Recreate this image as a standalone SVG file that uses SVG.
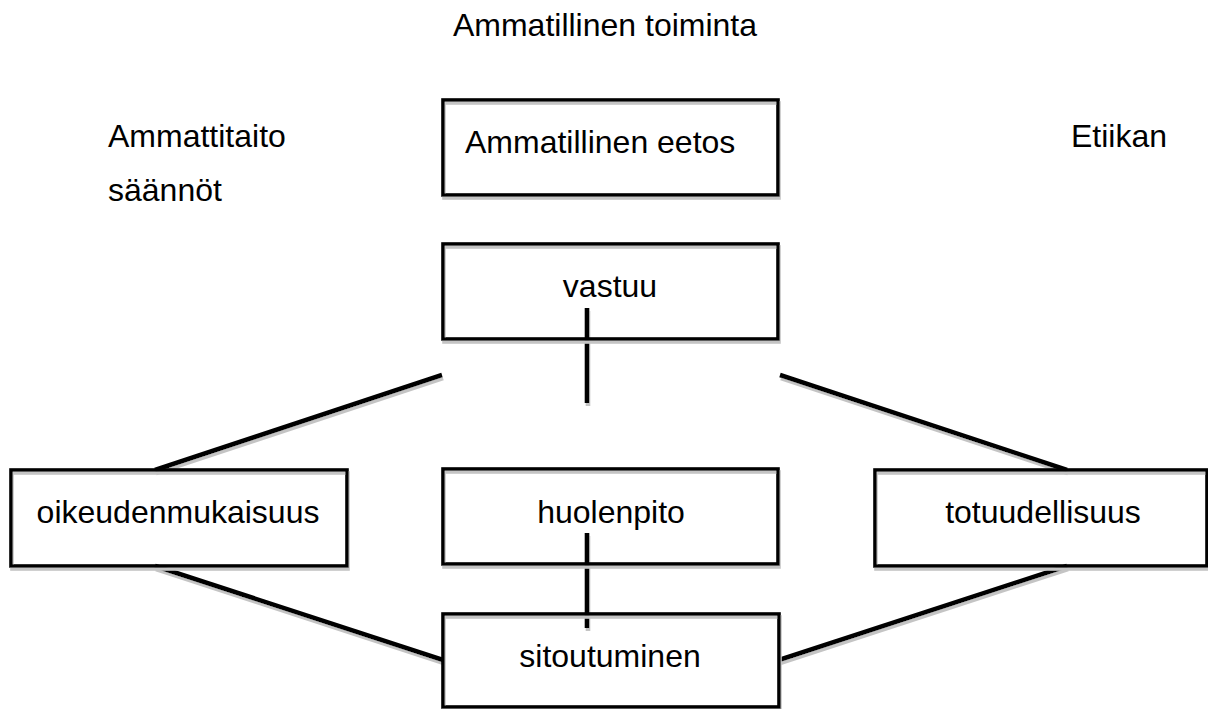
<svg xmlns="http://www.w3.org/2000/svg" width="1208" height="709" viewBox="0 0 1208 709">
<defs>
<filter id="sh" filterUnits="userSpaceOnUse" x="0" y="0" width="1208" height="709">
<feDropShadow dx="1" dy="3" stdDeviation="0.3" flood-color="#c4c4c4" flood-opacity="1"/>
</filter>
</defs>
<style>
text{font-family:"Liberation Sans",Arial,sans-serif;font-size:32px;fill:#000}
.box{fill:none;stroke:#000;stroke-width:3.6;filter:url(#sh)}
.ln{stroke:#000;stroke-width:4.6;fill:none;filter:url(#sh)}
.c{text-anchor:middle}
</style>
<rect width="1208" height="709" fill="#fff"/>
<g id="labels">
<text x="605" y="36" class="c">Ammatillinen toiminta</text>
<text x="108" y="147">Ammattitaito</text>
<text x="108" y="201">säännöt</text>
<text x="1071" y="147">Etiikan</text>
</g>
<g id="connectors">
<line class="ln" x1="587" y1="308" x2="587" y2="403"/>
<line class="ln" x1="587" y1="533" x2="587" y2="628"/>
<line class="ln" x1="155" y1="470" x2="442" y2="375"/>
<line class="ln" x1="780" y1="375" x2="1067" y2="470"/>
<line class="ln" x1="155" y1="566" x2="443" y2="660"/>
<line class="ln" x1="1067" y1="566" x2="779" y2="660"/>
</g>
<g id="eetos">
<rect class="box" x="443" y="100" width="335" height="95"/>
<text x="465" y="153">Ammatillinen eetos</text>
</g>
<g id="vastuu">
<rect class="box" x="443" y="244" width="335" height="95"/>
<text x="610" y="297" class="c">vastuu</text>
</g>
<g id="oikeudenmukaisuus">
<rect class="box" x="11" y="470" width="336" height="96"/>
<text x="178" y="523" class="c">oikeudenmukaisuus</text>
</g>
<g id="huolenpito">
<rect class="box" x="443" y="469" width="335" height="95"/>
<text x="611" y="523" class="c">huolenpito</text>
</g>
<g id="totuudellisuus">
<rect class="box" x="875" y="470" width="332" height="96"/>
<text x="1043" y="523" class="c">totuudellisuus</text>
</g>
<g id="sitoutuminen">
<rect class="box" x="443" y="614" width="336" height="93"/>
<text x="610" y="667" class="c">sitoutuminen</text>
</g>
</svg>
